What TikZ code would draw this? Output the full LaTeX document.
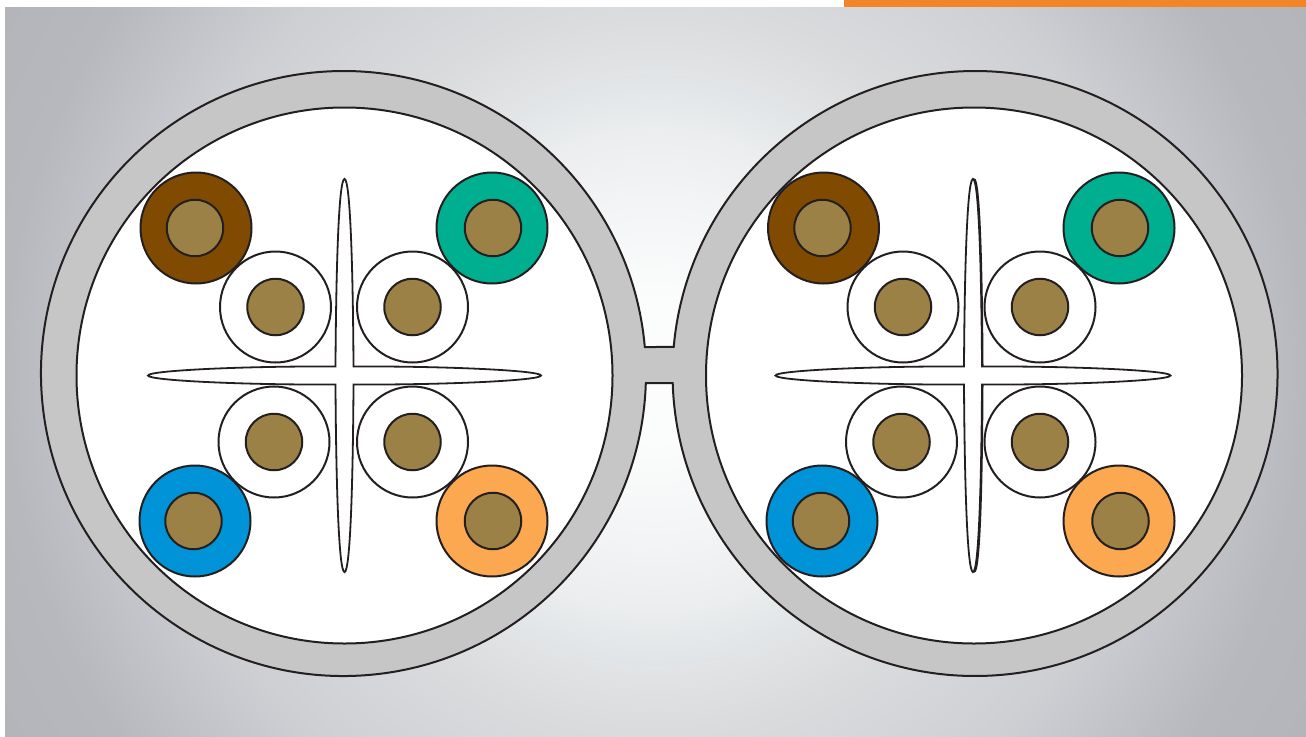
\documentclass[tikz,border=0pt]{standalone}
\definecolor{sheathgray}{HTML}{C6C6C6}
\definecolor{inkline}{HTML}{231F20}
\definecolor{coregold}{HTML}{9B8145}
\definecolor{wirebrown}{HTML}{804A00}
\definecolor{wireteal}{HTML}{00AE90}
\definecolor{wireblue}{HTML}{0093D8}
\definecolor{wireorange}{HTML}{FBA850}
\definecolor{topbar}{HTML}{F58428}
\definecolor{bga}{HTML}{FCFCFC}
\definecolor{bgb}{HTML}{FBFCFC}
\definecolor{bgc}{HTML}{F3F4F5}
\definecolor{bgd}{HTML}{EBEDEE}
\definecolor{bge}{HTML}{E1E5E7}
\definecolor{bgf}{HTML}{E2E3E5}
\definecolor{bgg}{HTML}{DADBDD}
\definecolor{bgh}{HTML}{CDCFD3}
\definecolor{bgi}{HTML}{B7B8BE}
\definecolor{bgj}{HTML}{B4B5BB}
\pgfdeclareradialshading{cablebg}{\pgfpoint{0bp}{0bp}}{%
  color(0bp)=(bga);
  color(2.3bp)=(bgb);
  color(5.6bp)=(bgc);
  color(7.9bp)=(bgd);
  color(9.55bp)=(bge);
  color(9.9bp)=(bgf);
  color(11.9bp)=(bgg);
  color(16.5bp)=(bgh);
  color(21.4bp)=(bgi);
  color(24.5bp)=(bgj);
  color(50bp)=(bgj)}
\tikzset{
  wire/.style={circle,draw=inkline,line width=2pt,inner sep=0pt,minimum size=111pt},
  core/.style={circle,draw=inkline,line width=2pt,fill=coregold,inner sep=0pt,minimum size=56.5pt},
}
\newcommand{\spline}[3]{% center, reach of the tips
  \draw[draw=inkline,fill=white,line width=1.8pt,shift={(#1,#2)}]
    (-9,-9) .. controls (-8.5,-100) and (-6,-196.5) .. (0,-196.5)
    .. controls (6,-196.5) and (8.5,-100) .. (9,-9)
    .. controls (100,-9.5) and (#3,-5) .. (#3,0)
    .. controls (#3,5) and (100,9.5) .. (9,9)
    .. controls (8.5,100) and (6,196.5) .. (0,196.5)
    .. controls (-6,196.5) and (-8.5,100) .. (-9,9)
    .. controls (-100,9.5) and (-#3,5) .. (-#3,0)
    .. controls (-#3,-5) and (-100,-9.5) .. (-9,-9) -- cycle;
}
\begin{document}
\begin{tikzpicture}[x=1pt,y=-1pt]
  \useasboundingbox (0,0) rectangle (1306,736);
  \begin{scope}
    \clip (5,7) rectangle (1306,736);
    \shade[shading=cablebg] (655,370) circle (760);
  \end{scope}
  \fill[topbar] (844,0) rectangle (1306,7);

  % jacket, both halves and the web between them
  \draw[draw=inkline,fill=sheathgray,line width=2pt]
    (644.8,347) arc (-5.03:-358.2:302.5)
    -- (672.7,383) arc (178.2:-174.97:302.5) -- cycle;
  \fill[white,draw=inkline,line width=2pt] (344.5,375.5) circle (268);
  \fill[white,draw=inkline,line width=2pt] (974,375.5) circle (268);

  \spline{344.5}{375.5}{196.5}
  \spline{973}{375.5}{197.5}
  \draw[inkline,line width=2pt] (974,179) .. controls (980,179) and (982,280) .. (982.5,366);
  \draw[inkline,line width=2pt] (982.5,385) .. controls (982,480) and (980,572) .. (974,572);

  % colored pairs: name, color, wire center, core center
  \foreach \nm/\col/\wx/\wy/\cx/\cy in {
    lbrown/wirebrown/196/228/195/228, lteal/wireteal/492/228/493/228,
    lblue/wireblue/195/521/193.5/521, lorange/wireorange/492/521/493/521,
    rbrown/wirebrown/823.5/228/822.5/228, rteal/wireteal/1119/228/1120/228,
    rblue/wireblue/822/521/821/521, rorange/wireorange/1119/521/1120.5/521,
    lwa/white/275.5/307/275.5/307, lwb/white/412.5/307/412.5/307,
    lwc/white/274/442/274/442, lwd/white/412.5/442/412.5/442,
    rwa/white/903/307/903/307, rwb/white/1040/307/1040/307,
    rwc/white/901.5/442/901.5/442, rwd/white/1040/442/1040/442} {
    \node[wire,fill=\col] (\nm) at (\wx,\wy) {};
    \node[core] (\nm core) at (\cx,\cy) {};
  }
\end{tikzpicture}
\end{document}
